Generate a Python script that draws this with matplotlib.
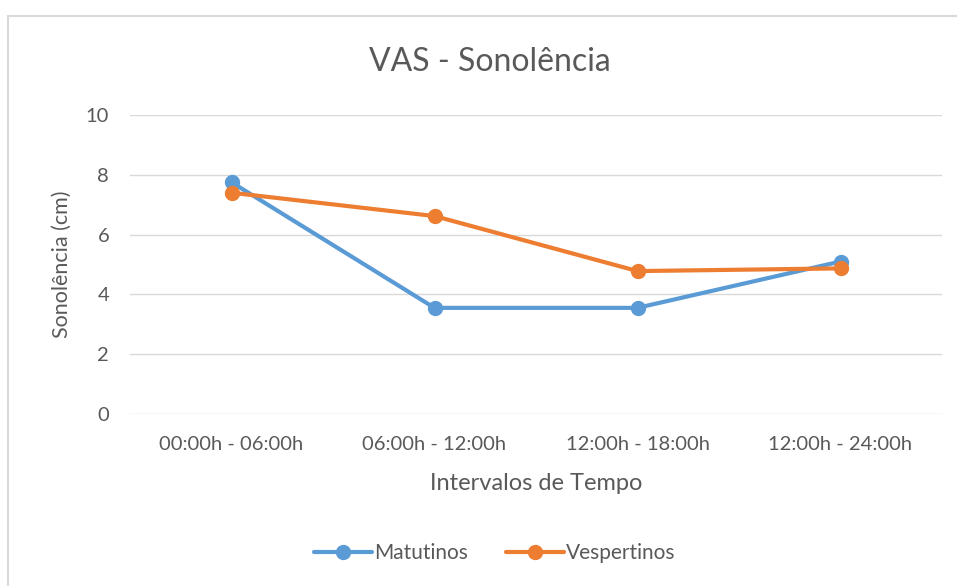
import matplotlib.pyplot as plt
from matplotlib.patches import Rectangle

# data
intervalos = ["00:00h - 06:00h", "06:00h - 12:00h", "12:00h - 18:00h", "12:00h - 24:00h"]
matutinos = [7.75, 3.55, 3.55, 5.1]
vespertinos = [7.4, 6.62, 4.78, 4.87]
y_ticks = [0, 2, 4, 6, 8, 10]

azul = "#5B9BD5"
laranja = "#ED7D31"
texto = "#595959"

plt.rcParams['font.family'] = ['Lato', 'DejaVu Sans']

fig = plt.figure(figsize=(9.57, 5.86), dpi=100)
# chart frame (Excel style border)
fig.patches.append(Rectangle((8/957, -0.1), 1.1, 1 - 16/586 + 0.1, transform=fig.transFigure,
                             fill=False, edgecolor="#D9D9D9", lw=1.5))

ax = fig.add_axes([130/957, 172/586, 812/957, 299/586])
x = range(len(intervalos))
ax.plot(x, matutinos, color=azul, lw=3, marker="o", ms=10, label="Matutinos", solid_capstyle="round")
ax.plot(x, vespertinos, color=laranja, lw=3, marker="o", ms=10, label="Vespertinos", solid_capstyle="round")

ax.set_xlim(-0.5, 3.5)
ax.set_ylim(0, 10)
ax.set_xticks(list(x))
ax.set_xticklabels(intervalos)
ax.set_yticks(y_ticks)
ax.tick_params(axis="both", length=0, labelsize=14.5, colors=texto)
ax.tick_params(axis="y", pad=15)
ax.tick_params(axis="x", pad=16)
ax.grid(axis="y", color="#D9D9D9", lw=1)
ax.set_axisbelow(True)
for s in ax.spines.values():
    s.set_visible(False)

fig.text(490/957, 1 - 62/586, "VAS - Sonolência", fontsize=23, color=texto, ha="center", va="center")
ax.set_xlabel("Intervalos de Tempo", fontsize=17, color=texto, labelpad=14)
ax.set_ylabel("Sonolência (cm)", fontsize=15.5, color=texto, labelpad=10)

leg = ax.legend(loc="center", bbox_to_anchor=(495/957, 1 - 553/586), bbox_transform=fig.transFigure,
                ncol=2, frameon=False, fontsize=15, handlelength=2.8, handletextpad=0.1,
                columnspacing=1.8)
for t in leg.get_texts():
    t.set_color(texto)

fig.savefig("out.png", dpi=100)
